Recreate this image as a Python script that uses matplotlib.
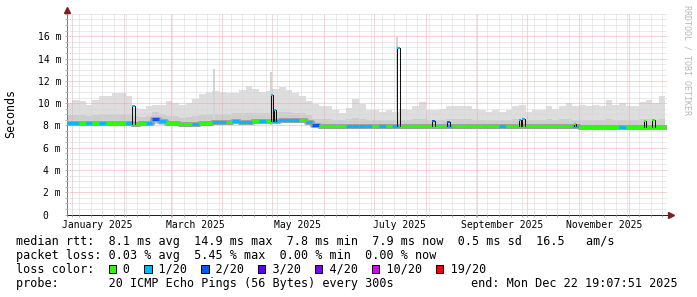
#!/usr/bin/env python3
from datetime import datetime, timedelta

import matplotlib

matplotlib.use("Agg")
import matplotlib.dates as mdates
import matplotlib.pyplot as plt
import numpy as np
from matplotlib.patches import Rectangle
from matplotlib.ticker import FixedLocator, MultipleLocator
from matplotlib.transforms import blended_transform_factory

OUT_PATH = "out.png"
DPI = 100
FIG_W, FIG_H = 697, 297
MONO = "DejaVu Sans Mono"

# one consolidated block every 4 days, first block starts Dec 28 2024
FIRST_BLOCK = datetime(2024, 12, 28)
BLOCK_DAYS = 4
DATA_END = datetime(2025, 12, 22, 19, 7, 51)
VIEW_START = datetime(2024, 12, 28, 19, 0)
VIEW_END = datetime(2025, 12, 23, 19, 0)

# rtt values in ms
rtt_max = [
    10.0, 10.3, 10.2, 9.8, 10.3, 10.6, 10.6, 10.9, 10.9, 10.6,
    9.6, 9.5, 9.7, 9.8, 9.8, 10.2, 10.0, 9.8, 10.0, 10.4,
    10.8, 11.0, 11.1, 11.0, 10.9, 10.9, 11.2, 11.5, 11.3, 11.0,
    11.1, 11.3, 11.4, 11.2, 10.9, 10.6, 10.2, 9.9, 9.7, 9.7,
    9.4, 9.1, 9.6, 10.4, 9.9, 9.4, 9.4, 9.2, 9.4, 9.2,
    9.5, 9.4, 9.7, 10.1, 9.4, 9.4, 9.5, 9.7, 9.7, 9.7,
    9.7, 9.5, 9.4, 9.2, 9.4, 9.2, 9.4, 9.7, 9.8, 9.2,
    9.4, 9.4, 9.7, 9.5, 9.7, 10.0, 9.7, 9.8, 9.7, 9.8,
    9.7, 10.3, 9.8, 10.0, 9.7, 9.7, 10.1, 10.3, 10.0, 10.6,
]
rtt_upper = [
    8.9, 8.95, 8.9, 8.85, 8.95, 9.0, 9.0, 9.05, 9.05, 9.0,
    8.8, 8.75, 8.8, 9.2, 9.0, 8.85, 8.8, 8.7, 8.75, 8.85,
    8.95, 9.0, 9.05, 9.05, 9.0, 9.1, 9.1, 9.15, 9.1, 9.15,
    9.1, 9.2, 9.2, 9.2, 9.15, 9.1, 8.95, 8.6, 8.55, 8.55,
    8.5, 8.45, 8.6, 8.7, 8.6, 8.5, 8.5, 8.45, 8.5, 8.45,
    8.5, 8.5, 8.55, 8.6, 8.5, 8.5, 8.5, 8.55, 8.55, 8.55,
    8.55, 8.5, 8.5, 8.45, 8.5, 8.45, 8.5, 8.55, 8.6, 8.45,
    8.5, 8.5, 8.55, 8.5, 8.55, 8.6, 8.5, 8.45, 8.45, 8.5,
    8.45, 8.55, 8.5, 8.5, 8.45, 8.45, 8.55, 8.6, 8.5, 8.6,
]
rtt_median = [
    8.25, 8.25, 8.25, 8.25, 8.25, 8.25, 8.25, 8.25, 8.25, 8.25,
    8.15, 8.2, 8.2, 8.6, 8.4, 8.25, 8.2, 8.1, 8.1, 8.15,
    8.2, 8.25, 8.3, 8.3, 8.3, 8.35, 8.3, 8.3, 8.35, 8.4,
    8.35, 8.4, 8.45, 8.45, 8.45, 8.45, 8.3, 8.0, 7.97, 7.97,
    7.97, 7.97, 7.97, 7.97, 7.97, 7.97, 7.97, 7.97, 7.97, 7.95,
    7.95, 7.95, 7.95, 7.97, 7.95, 7.95, 7.95, 7.97, 7.95, 7.95,
    7.95, 7.95, 7.97, 7.95, 7.95, 7.97, 7.95, 7.95, 7.97, 7.95,
    7.95, 7.95, 7.95, 7.97, 7.95, 7.95, 7.95, 7.88, 7.88, 7.88,
    7.88, 7.88, 7.88, 7.88, 7.88, 7.88, 7.88, 7.88, 7.88, 7.88,
]
rtt_min = [
    8.0, 8.0, 8.0, 8.0, 8.0, 8.0, 8.0, 8.0, 8.0, 8.0,
    7.95, 7.95, 7.95, 8.1, 8.05, 8.0, 7.95, 7.85, 7.85, 7.9,
    7.95, 8.0, 8.05, 8.05, 8.05, 8.1, 8.05, 8.05, 8.1, 8.15,
    8.1, 8.15, 8.2, 8.2, 8.2, 8.2, 8.05, 7.75, 7.72, 7.72,
    7.72, 7.72, 7.72, 7.72, 7.72, 7.72, 7.72, 7.72, 7.72, 7.7,
    7.7, 7.7, 7.7, 7.7, 7.7, 7.7, 7.7, 7.7, 7.7, 7.7,
    7.7, 7.7, 7.7, 7.7, 7.7, 7.7, 7.7, 7.7, 7.7, 7.7,
    7.7, 7.7, 7.7, 7.7, 7.7, 7.7, 7.7, 7.62, 7.62, 7.62,
    7.62, 7.62, 7.62, 7.62, 7.62, 7.62, 7.62, 7.62, 7.62, 7.62,
]
# index into loss_labels / loss_colors
loss_class = [
    1, 1, 0, 1, 0, 1, 0, 0, 0, 1,
    0, 0, 1, 2, 1, 0, 0, 0, 0, 1,
    0, 0, 1, 1, 0, 1, 1, 1, 0, 1,
    0, 1, 1, 1, 1, 0, 1, 2, 0, 0,
    0, 0, 1, 1, 1, 1, 0, 1, 0, 1,
    0, 0, 0, 0, 0, 0, 0, 1, 0, 0,
    0, 0, 0, 0, 0, 1, 0, 0, 0, 0,
    0, 0, 0, 0, 0, 0, 1, 0, 0, 0,
    0, 0, 0, 1, 0, 0, 0, 0, 0, 0,
]

loss_labels = ["0", "1/20", "2/20", "3/20", "4/20", "10/20", "19/20"]
loss_colors = ["#26ff00", "#00b8ff", "#0059ff", "#5e00ff", "#7e00ff", "#dd00ff", "#ff0000"]

# short median outliers
spike_dates = ["2025-02-06", "2025-04-30", "2025-05-02", "2025-07-15", "2025-08-05",
               "2025-08-14", "2025-09-26", "2025-09-28", "2025-10-29", "2025-12-10",
               "2025-12-15"]
spike_values = [9.7, 10.7, 9.4, 14.9, 8.4, 8.3, 8.5, 8.6, 8.1, 8.4, 8.5]
spike_loss = [1, 1, 1, 1, 2, 2, 1, 1, 0, 0, 0]

# narrow smoke peaks
smoke_peak_dates = ["2025-03-27", "2025-04-30", "2025-07-15"]
smoke_peak_values = [13.1, 12.8, 15.9]

y_ticks = [0, 2, 4, 6, 8, 10, 12, 14, 16]
month_labels = ["January 2025", "March 2025", "May 2025", "July 2025",
                "September 2025", "November 2025"]
month_label_starts = ["2025-01-01", "2025-03-01", "2025-05-01", "2025-07-01",
                      "2025-09-01", "2025-11-01"]

stats_lines = [
    "median rtt:  8.1 ms avg  14.9 ms max  7.8 ms min  7.9 ms now  0.5 ms sd  16.5   am/s",
    "packet loss: 0.03 % avg  5.45 % max  0.00 % min  0.00 % now",
]
probe_text = "probe:       20 ICMP Echo Pings (56 Bytes) every 300s"
end_text = "end: Mon Dec 22 19:07:51 2025"

GRID_COLOR = "#d6d6d6"
MGRID_COLOR = "#f0a8a8"
AXIS_COLOR = "#1f1f1f"
ARROW_COLOR = "#801f1f"
PX = 72.0 / DPI  # one pixel in points


def fx(px):
    return px / FIG_W


def fy(px_from_top):
    return 1.0 - px_from_top / FIG_H


def block_edges():
    starts = [FIRST_BLOCK + timedelta(days=BLOCK_DAYS * i) for i in range(len(rtt_median))]
    ends = starts[1:] + [DATA_END]
    return mdates.date2num(starts), mdates.date2num(ends)


def draw_smoke(ax, starts, ends):
    edges = np.append(starts, ends[-1])

    def ext(vals):
        return np.append(vals, vals[-1])

    ax.fill_between(edges, ext(rtt_min), ext(rtt_max), step="post",
                    color="#dddddd", lw=0, zorder=1)
    ax.fill_between(edges, ext(rtt_min), ext(rtt_upper), step="post",
                    color="#cdcdcd", lw=0, zorder=1.1)
    peaks = mdates.date2num([datetime.fromisoformat(d) for d in smoke_peak_dates])
    ax.vlines(peaks, 8.0, smoke_peak_values, color="#d4d4d4", lw=2 * PX, zorder=1.2)


def draw_median(ax, starts, ends):
    edges = np.append(starts, ends[-1])
    ax.step(edges, np.append(rtt_median, rtt_median[-1]), where="post",
            color="#a0a0a0", lw=5 * PX, zorder=3)
    ax.hlines(rtt_median, starts, ends, colors=[loss_colors[k] for k in loss_class],
              lw=3 * PX, zorder=4)

    width = 1.4
    for d, v, k in zip(spike_dates, spike_values, spike_loss):
        x0 = mdates.date2num(datetime.fromisoformat(d))
        base = rtt_median[np.searchsorted(starts, x0, side="right") - 1]
        ax.plot([x0, x0, x0 + width, x0 + width], [base, v, v, base],
                color="#101010", lw=1 * PX, zorder=4.5)
        ax.hlines(v, x0, x0 + width, colors=loss_colors[k], lw=2 * PX, zorder=4.6)


def style_axes(ax):
    ax.set_xlim(VIEW_START, VIEW_END)
    ax.set_ylim(0, 18)
    ax.set_facecolor("white")
    for side in ("top", "right"):
        ax.spines[side].set_visible(False)
    for side in ("left", "bottom"):
        ax.spines[side].set_color(AXIS_COLOR)
        ax.spines[side].set_linewidth(1 * PX)

    dotted = (0, (1, 1))
    ax.yaxis.set_major_locator(FixedLocator(y_ticks))
    ax.yaxis.set_minor_locator(MultipleLocator(0.5))
    ax.set_yticklabels([f"{t} m" if t else "0  " for t in y_ticks])
    ax.xaxis.set_major_locator(mdates.MonthLocator())
    ax.xaxis.set_minor_locator(mdates.WeekdayLocator(byweekday=mdates.SU))
    ax.xaxis.set_major_formatter(plt.NullFormatter())
    ax.grid(which="major", color=MGRID_COLOR, lw=1 * PX, linestyle=dotted)
    ax.grid(which="minor", color=GRID_COLOR, lw=1 * PX, linestyle=dotted)
    ax.set_axisbelow(False)
    ax.tick_params(which="both", length=2 * PX, width=1 * PX, color="#b0b0b0",
                   direction="out", pad=4 * PX, labelsize=7, labelfontfamily=MONO)

    trans = blended_transform_factory(ax.transData, ax.transAxes)
    for label, start in zip(month_labels, month_label_starts):
        mid = datetime.fromisoformat(start) + timedelta(days=15)
        ax.text(mdates.date2num(mid), -10.5 / 200.7, label, transform=trans,
                ha="center", va="center", fontsize=7, family=MONO)

    # rrdtool style arrows at the axis ends
    ax.plot([0], [1 + 3.5 / 200.7], marker="^", ms=5, color=ARROW_COLOR,
            transform=ax.transAxes, clip_on=False, zorder=6)
    ax.plot([1 + 3.5 / 600], [0], marker=">", ms=5, color=ARROW_COLOR,
            transform=ax.transAxes, clip_on=False, zorder=6)


def draw_legend(fig):
    char_w = 0.60205 * 8.5 / PX
    rows_y = [241.7, 255.2, 269.3, 283.3]
    for text, y in zip(stats_lines, rows_y):
        fig.text(fx(16), fy(y), text, family=MONO, fontsize=8.5, va="center", ha="left")

    row = "loss color:  "
    box_cols = []
    for label in loss_labels:
        box_cols.append(len(row))
        row += "  " + label + "  "
    fig.text(fx(16), fy(rows_y[2]), row, family=MONO, fontsize=8.5, va="center", ha="left")
    for col, color in zip(box_cols, loss_colors):
        x0 = 16 + col * char_w + 0.3
        fig.add_artist(Rectangle((fx(x0), fy(rows_y[2] + 4)), 7.5 / FIG_W, 8 / FIG_H,
                                 transform=fig.transFigure, facecolor=color,
                                 edgecolor="black", lw=1 * PX))

    fig.text(fx(16), fy(rows_y[3]), probe_text, family=MONO, fontsize=8.5,
             va="center", ha="left")
    fig.text(fx(678), fy(rows_y[3]), end_text, family=MONO, fontsize=8.5,
             va="center", ha="right")


def main():
    fig = plt.figure(figsize=(FIG_W / DPI, FIG_H / DPI), dpi=DPI, facecolor="white")
    ax = fig.add_axes([fx(67), fy(214.6), 600 / FIG_W, 200.7 / FIG_H])

    starts, ends = block_edges()
    draw_smoke(ax, starts, ends)
    draw_median(ax, starts, ends)
    style_axes(ax)

    fig.text(fx(11), fy(114), "Seconds", rotation=90, family=MONO, fontsize=8.4,
             va="center", ha="center")
    fig.text(fx(686.5), fy(60), "RRDTOOL / TOBI OETIKER", rotation=270, family=MONO,
             fontsize=6, color="#b8b8b8", va="center", ha="center")
    draw_legend(fig)

    fig.savefig(OUT_PATH, dpi=DPI, facecolor="white")
    plt.close(fig)
    return 0


if __name__ == "__main__":
    raise SystemExit(main())
